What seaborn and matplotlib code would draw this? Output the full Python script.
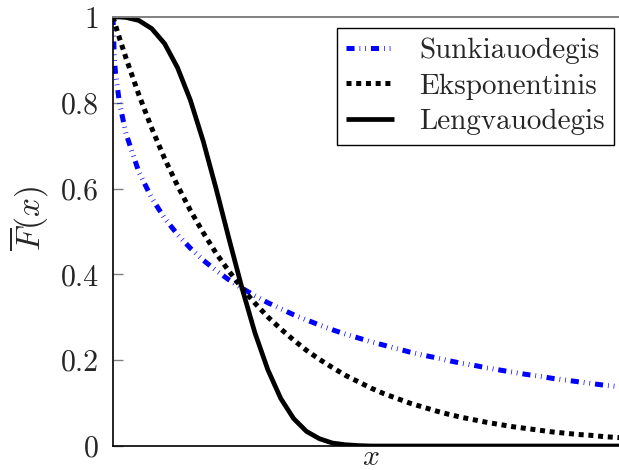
import matplotlib
matplotlib.use("Agg")
import matplotlib.pyplot as plt
import seaborn as sns
import pandas as pd

# ---- data ----
x_vals = [0.0, 0.01, 0.02, 0.05, 0.1, 0.2, 0.3, 0.4, 0.5, 0.6, 0.7, 0.8, 0.9, 1.0,
          1.1, 1.2, 1.3, 1.4, 1.5, 1.6, 1.7, 1.8, 1.9, 2.0, 2.1, 2.2, 2.3, 2.4,
          2.5, 2.6, 2.7, 2.8, 2.9, 3.0, 3.1, 3.2, 3.3, 3.4, 3.5, 3.6, 3.7, 3.8,
          3.9, 4.0]
heavy = [1.000, 0.905, 0.868, 0.800, 0.729, 0.639, 0.578, 0.531, 0.493, 0.461, 0.433,
         0.409, 0.387, 0.368, 0.350, 0.334, 0.320, 0.306, 0.294, 0.282, 0.271, 0.261,
         0.252, 0.243, 0.235, 0.227, 0.219, 0.212, 0.206, 0.199, 0.193, 0.188, 0.182,
         0.177, 0.172, 0.167, 0.163, 0.158, 0.154, 0.150, 0.146, 0.142, 0.139, 0.135]
expo = [1.000, 0.990, 0.980, 0.951, 0.905, 0.819, 0.741, 0.670, 0.607, 0.549, 0.497,
        0.449, 0.407, 0.368, 0.333, 0.301, 0.273, 0.247, 0.223, 0.202, 0.183, 0.165,
        0.150, 0.135, 0.122, 0.111, 0.100, 0.091, 0.082, 0.074, 0.067, 0.061, 0.055,
        0.050, 0.045, 0.041, 0.037, 0.033, 0.030, 0.027, 0.025, 0.022, 0.020, 0.018]
light = [1.000, 1.000, 1.000, 1.000, 0.999, 0.992, 0.973, 0.938, 0.882, 0.806, 0.710,
         0.599, 0.482, 0.368, 0.264, 0.178, 0.111, 0.064, 0.034, 0.017, 0.007, 0.003,
         0.001, 0.000, 0.000, 0.000, 0.000, 0.000, 0.000, 0.000, 0.000, 0.000, 0.000,
         0.000, 0.000, 0.000, 0.000, 0.000, 0.000, 0.000, 0.000, 0.000, 0.000, 0.000]
labels = ["Sunkiauodegis", "Eksponentinis", "Lengvauodegis"]
y_ticks = [0, 0.2, 0.4, 0.6, 0.8, 1.0]
y_tick_labels = ["0", "0.2", "0.4", "0.6", "0.8", "1"]

sns.set_theme(style="white")
plt.rcParams["font.family"] = ["cmr10", "DejaVu Serif"]
plt.rcParams["mathtext.fontset"] = "cm"
plt.rcParams["axes.formatter.use_mathtext"] = True
plt.rcParams["lines.scale_dashes"] = False

FS = 21.5

fig = plt.figure(figsize=(6.19, 4.70), dpi=100)
L, R, B, T = 113, 629, 446, 17
ax = fig.add_axes([L / 619, (470 - B) / 470, (R - L) / 619, (B - T) / 470])

styles = [
    dict(color=(0, 0, 1), lw=3.6, dashes=(5.8, 3.6, 0.5, 3.6, 0.5, 3.6)),
    dict(color="black", lw=3.6, dashes=(3.6, 3.4)),
    dict(color="black", lw=3.4, dashes=None),
]
series = [heavy, expo, light]
for ys, lab, st in zip(series, labels, styles):
    df = pd.DataFrame({"x": x_vals, "y": ys})
    sns.lineplot(data=df, x="x", y="y", ax=ax, color=st["color"], lw=st["lw"],
                 label=lab, legend=False)
    line = ax.get_lines()[-1]
    line.set_solid_capstyle("butt")
    line.set_dash_capstyle("butt")
    if st["dashes"] is not None:
        line.set_dashes(st["dashes"])

ax.set_xlim(0, 4)
ax.set_ylim(0, 1)
ax.set_xticks([])
ax.set_yticks(y_ticks)
ax.set_yticklabels(y_tick_labels, fontsize=FS)
ax.tick_params(axis="y", direction="in", length=7, width=1, color="#808080",
               pad=10, left=True)

for s in ["left", "bottom"]:
    ax.spines[s].set_color("black")
    ax.spines[s].set_linewidth(1.2)
ax.spines["top"].set_color("#808080")
ax.spines["top"].set_linewidth(1.4)
ax.spines["right"].set_visible(False)

ax.set_ylabel(r"$\overline{F}(x)$", fontsize=24)
ax.yaxis.label.set_rotation_mode("default")
ax.yaxis.label.set_ha("center")
ax.yaxis.label.set_va("center")
ax.yaxis.set_label_coords(-(L - 29) / (R - L), 0.5 + 13 / (B - T))
ax.set_xlabel(r"$x$", fontsize=FS)
ax.xaxis.label.set_va("center")
ax.xaxis.set_label_coords(0.5, -(457 - B) / (B - T))

leg = ax.legend(loc="upper right", bbox_to_anchor=((614 - L) / (R - L), (B - 28) / (B - T)),
                borderaxespad=0, fontsize=21, frameon=True, fancybox=False,
                handlelength=1.65, handletextpad=0.85, labelspacing=0.32,
                borderpad=0.32)
fr = leg.get_frame()
fr.set_edgecolor("black")
fr.set_linewidth(1.0)
fr.set_alpha(1)
for h in leg.get_lines():
    h.set_dash_capstyle("butt")

fig.savefig("out.png", dpi=100)
